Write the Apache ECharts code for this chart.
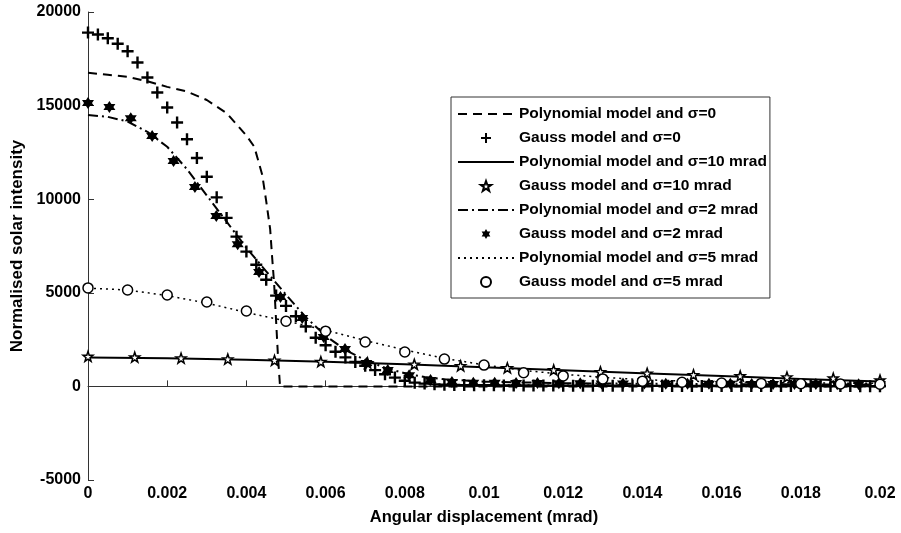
<!DOCTYPE html>
<html>
<head>
<meta charset="utf-8">
<script src="https://cdn.jsdelivr.net/npm/echarts@6/dist/echarts.min.js"></script>
<style>
  html, body { margin: 0; padding: 0; background: #fff; }
  #main { width: 901px; height: 533px; }
</style>
</head>
<body>
<div id="main"></div>
<script>
// [angular displacement, intensity]
var polySigma0 = [
    [0, 16750], [0.0005, 16650], [0.001, 16540], [0.0015, 16300], [0.002, 16000], [0.0025, 15750],
    [0.003, 15300], [0.0035, 14600], [0.004, 13400], [0.0042, 12800], [0.0044, 11300], [0.0045, 9900],
    [0.0046, 8400], [0.00465, 6900], [0.0047, 5500], [0.00475, 3500], [0.0048, 1500], [0.00485, 0],
    [0.02, 0]
];
var gaussSigma0 = [
    [0, 18900], [0.00025, 18800], [0.0005, 18600], [0.00075, 18300], [0.001, 17900], [0.00125, 17300], [0.0015, 16500], [0.00175, 15700],
    [0.002, 14900], [0.00225, 14100], [0.0025, 13200], [0.00275, 12200], [0.003, 11200], [0.00325, 10100], [0.0035, 9000], [0.00375, 8000],
    [0.004, 7200], [0.00425, 6500], [0.0045, 5700], [0.00475, 4850], [0.005, 4300], [0.00525, 3750], [0.0055, 3200], [0.00575, 2600],
    [0.006, 2200], [0.00625, 1850], [0.0065, 1550], [0.00675, 1300], [0.007, 1100], [0.00725, 870], [0.0075, 650], [0.00775, 470],
    [0.008, 300], [0.00825, 200], [0.0085, 150], [0.00875, 110], [0.009, 90], [0.00925, 80], [0.0095, 70], [0.00975, 60],
    [0.01, 58], [0.01025, 55], [0.0105, 52], [0.01075, 50], [0.011, 48], [0.01125, 46], [0.0115, 44], [0.01175, 42],
    [0.012, 40], [0.01225, 38], [0.0125, 36], [0.01275, 35], [0.013, 34], [0.01325, 33], [0.0135, 32], [0.01375, 31],
    [0.014, 30], [0.01425, 29], [0.0145, 28], [0.01475, 27], [0.015, 26], [0.01525, 25], [0.0155, 24], [0.01575, 23],
    [0.016, 22], [0.01625, 21], [0.0165, 20], [0.01675, 20], [0.017, 19], [0.01725, 19], [0.0175, 18], [0.01775, 18],
    [0.018, 17], [0.01825, 17], [0.0185, 16], [0.01875, 16], [0.019, 15], [0.01925, 15], [0.0195, 14], [0.01975, 14],
    [0.02, 13]
];
var polySigma10 = [
    [0, 1550], [0.002, 1500], [0.004, 1420], [0.006, 1320], [0.008, 1180], [0.01, 1020],
    [0.012, 860], [0.014, 700], [0.016, 550], [0.018, 400], [0.02, 260]
];
var gaussSigma10 = [
    [0, 1600], [0.00118, 1560], [0.00235, 1510], [0.00353, 1460], [0.00471, 1390], [0.00588, 1320],
    [0.00706, 1250], [0.00824, 1180], [0.00941, 1100], [0.01059, 990], [0.01176, 880], [0.01294, 780],
    [0.01412, 700], [0.01529, 620], [0.01647, 560], [0.01765, 500], [0.01882, 440], [0.02, 340]
];
var polySigma2 = [
    [0, 14500], [0.0005, 14400], [0.001, 14150], [0.0015, 13600], [0.002, 12800], [0.0025, 11600],
    [0.003, 10200], [0.0035, 8800], [0.004, 7400], [0.0045, 6150], [0.005, 4900], [0.0055, 3700],
    [0.006, 2700], [0.0065, 1950], [0.007, 1400], [0.0075, 1000], [0.008, 700], [0.0085, 500],
    [0.009, 380], [0.01, 250], [0.012, 170], [0.014, 140], [0.016, 120], [0.018, 110], [0.02, 100]
];
var gaussSigma2 = [
    [0, 15140], [0.00054, 14920], [0.00108, 14330], [0.00162, 13370], [0.00216, 12040], [0.0027, 10650],
    [0.00324, 9100], [0.00378, 7600], [0.00432, 6110], [0.00486, 4780], [0.00541, 3650], [0.00595, 2640],
    [0.00649, 2000], [0.00703, 1250], [0.00757, 880], [0.00811, 600], [0.00865, 340], [0.00919, 240],
    [0.00973, 200], [0.01027, 190], [0.01081, 180], [0.01135, 175], [0.01189, 170], [0.01243, 165],
    [0.01297, 160], [0.01351, 155], [0.01405, 150], [0.01459, 145], [0.01514, 140], [0.01568, 138],
    [0.01622, 135], [0.01676, 130], [0.0173, 128], [0.01784, 125], [0.01838, 122], [0.01892, 120],
    [0.01946, 118], [0.02, 115]
];
var polySigma5 = [
    [0, 5250], [0.001, 5150], [0.002, 4850], [0.003, 4450], [0.004, 3950], [0.005, 3500], [0.006, 3000],
    [0.007, 2450], [0.008, 1950], [0.009, 1500], [0.01, 1150], [0.011, 850], [0.012, 650], [0.013, 480],
    [0.014, 360], [0.015, 290], [0.016, 240], [0.017, 210], [0.018, 190], [0.019, 170], [0.02, 160]
];
var gaussSigma5 = [
    [0, 5260], [0.001, 5150], [0.002, 4880], [0.003, 4510], [0.004, 4030], [0.005, 3480], [0.006, 2950],
    [0.007, 2370], [0.008, 1840], [0.009, 1460], [0.01, 1140], [0.011, 730], [0.012, 560], [0.013, 400],
    [0.014, 280], [0.015, 220], [0.016, 180], [0.017, 160], [0.018, 140], [0.019, 130], [0.02, 120]
];

var seriesNames = [
    'Polynomial model and σ=0',
    'Gauss model and σ=0',
    'Polynomial model and σ=10 mrad',
    'Gauss model and σ=10 mrad',
    'Polynomial model and σ=2 mrad',
    'Gauss model and σ=2 mrad',
    'Polynomial model and σ=5 mrad',
    'Gauss model and σ=5 mrad'
];

var plusSymbol = 'path://M4,0H6V4H10V6H6V10H4V6H0V4H4Z';
var starSymbol = 'path://M0,-10L2.35,-3.24L9.51,-3.09L3.8,1.24L5.88,8.09L0,4L-5.88,8.09L-3.8,1.24L-9.51,-3.09L-2.35,-3.24Z';
var hexSymbol = 'path://M0,-10L2.9,-5L8.7,-5L5.8,0L8.7,5L2.9,5L0,10L-2.9,5L-8.7,5L-5.8,0L-8.7,-5L-2.9,-5Z';
var font = 'Liberation Sans, Arial, sans-serif';

var chart = echarts.init(document.getElementById('main'));

function polyLine(name, data, type, width) {
    return {
        name: name,
        type: 'line',
        data: data,
        symbol: 'none',
        z: 2,
        // transparent item colour keeps the legend icon to the bare line
        itemStyle: { color: 'rgba(0,0,0,0)', borderWidth: 0 },
        lineStyle: { color: '#000', width: width, type: type }
    };
}

function gaussPoints(name, data, symbol, size, fill) {
    return {
        name: name,
        type: 'scatter',
        data: data,
        symbol: symbol,
        symbolSize: size,
        z: 3,
        itemStyle: { color: fill, borderColor: '#000', borderWidth: fill === '#fff' ? 1.5 : 0, opacity: 1 }
    };
}

var option = {
    animation: false,
    backgroundColor: '#fff',
    grid: { left: 88, right: 21, top: 12, bottom: 53 },
    legend: {
        data: seriesNames,
        orient: 'vertical',
        left: 451,
        top: 97,
        padding: [9, 3, 8, 6],
        itemGap: 8,
        itemWidth: 56,
        itemHeight: 10,
        backgroundColor: '#fff',
        borderColor: '#333',
        borderWidth: 1,
        borderRadius: 0,
        textStyle: { color: '#000', fontSize: 15.5, fontWeight: 'bold', fontFamily: font }
    },
    xAxis: {
        type: 'value',
        min: 0,
        max: 0.02,
        interval: 0.002,
        name: 'Angular displacement (mrad)',
        nameLocation: 'middle',
        nameGap: 29,
        nameTextStyle: { color: '#000', fontSize: 16.5, fontWeight: 'bold', fontFamily: font },
        splitLine: { show: false },
        axisLine: { lineStyle: { color: '#333', width: 1 } },
        axisTick: { inside: true, length: 6, lineStyle: { color: '#333' } },
        axisLabel: {
            color: '#000', fontSize: 16, fontWeight: 'bold', margin: 6, fontFamily: font,
            formatter: function (v) { return String(+v.toFixed(4)); }
        }
    },
    yAxis: {
        type: 'value',
        min: -5000,
        max: 20000,
        interval: 5000,
        name: 'Normalised solar intensity',
        nameLocation: 'middle',
        nameGap: 62,
        nameTextStyle: { color: '#000', fontSize: 17, fontWeight: 'bold', fontFamily: font },
        splitLine: { show: false },
        axisLine: { show: true, lineStyle: { color: '#333', width: 1 } },
        axisTick: { show: true, inside: true, length: 6, lineStyle: { color: '#333' } },
        axisLabel: {
            color: '#000', fontSize: 16, fontWeight: 'bold', margin: 7, fontFamily: font,
            formatter: function (v) { return String(v); }
        }
    },
    series: [
        polyLine(seriesNames[0], polySigma0, [9, 6], 2),
        gaussPoints(seriesNames[1], gaussSigma0, plusSymbol, 12, '#000'),
        polyLine(seriesNames[2], polySigma10, 'solid', 2),
        gaussPoints(seriesNames[3], gaussSigma10, starSymbol, 10, '#fff'),
        polyLine(seriesNames[4], polySigma2, [10, 4, 2, 4], 2),
        gaussPoints(seriesNames[5], gaussSigma2, hexSymbol, 12, '#000'),
        polyLine(seriesNames[6], polySigma5, [2, 4], 1.5),
        gaussPoints(seriesNames[7], gaussSigma5, 'circle', 10, '#fff')
    ]
};
chart.setOption(option);
</script>
</body>
</html>
